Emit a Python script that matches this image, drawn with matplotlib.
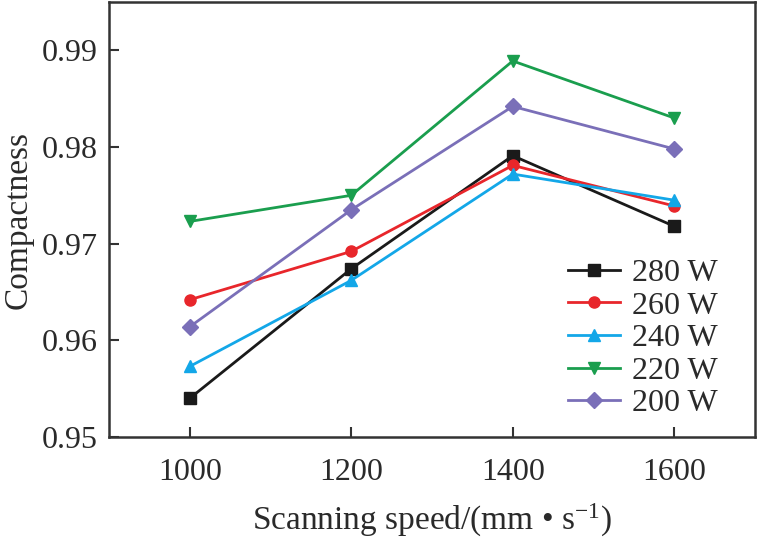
import matplotlib
matplotlib.use("Agg")
import matplotlib.pyplot as plt

plt.rcParams['font.family'] = ['Liberation Serif', 'DejaVu Serif']
plt.rcParams['mathtext.fontset'] = 'custom'
plt.rcParams['mathtext.rm'] = 'Liberation Serif'
plt.rcParams['mathtext.it'] = 'Liberation Serif:italic'

speeds = [1000, 1200, 1400, 1600]
labels = ['280 W', '260 W', '240 W', '220 W', '200 W']
w280 = [0.9540, 0.9674, 0.9791, 0.9718]
w260 = [0.9642, 0.9692, 0.9781, 0.9739]
w240 = [0.9573, 0.9662, 0.9772, 0.9745]
w220 = [0.9723, 0.9750, 0.9889, 0.9830]
w200 = [0.9614, 0.9735, 0.9842, 0.9798]
series = [w280, w260, w240, w220, w200]
colors = ['#1a1a1a', '#e8262b', '#13a7e8', '#1a9e4e', '#7a6fb8']
markers = ['s', 'o', '^', 'v', 'D']
msizes = [8, 8, 9, 9, 8]

fig = plt.figure(figsize=(7.59, 5.38), dpi=100)
ax = fig.add_axes([0.1436, 0.1877, 0.8511, 0.8086])

for vals, lab, c, m, ms in zip(series, labels, colors, markers, msizes):
    ax.plot(speeds, vals, color=c, marker=m, markersize=ms, linewidth=2.0,
            label=lab, markeredgecolor=c)

ax.set_xlim(900, 1700)
ax.set_ylim(0.95, 0.995)
ax.set_xticks(speeds)
ax.set_yticks([0.95, 0.96, 0.97, 0.98, 0.99])
ax.set_yticklabels(['0.95', '0.96', '0.97', '0.98', '0.99'])
ax.tick_params(direction='in', length=7, width=1.5, labelsize=23, colors='#333333',
               labelcolor='#2a2a2a')
ax.tick_params(axis='x', pad=15)
ax.tick_params(axis='y', pad=8)
for s in ax.spines.values():
    s.set_linewidth(1.8)
    s.set_color('#333333')

ax.set_xlabel('Scanning speed/(mm • s$^{\\mathrm{-1}}$)', fontsize=24, color='#2a2a2a', labelpad=11)
ax.set_ylabel('Compactness', fontsize=24, color='#2a2a2a', labelpad=6)

leg = ax.legend(loc='upper left', bbox_to_anchor=(0.71, 0.41), frameon=False,
                fontsize=23, handlelength=1.65, handletextpad=0.35, labelspacing=0.1,
                borderpad=0, borderaxespad=0)
for t in leg.get_texts():
    t.set_color('#2a2a2a')

fig.savefig('out.png', dpi=100)
